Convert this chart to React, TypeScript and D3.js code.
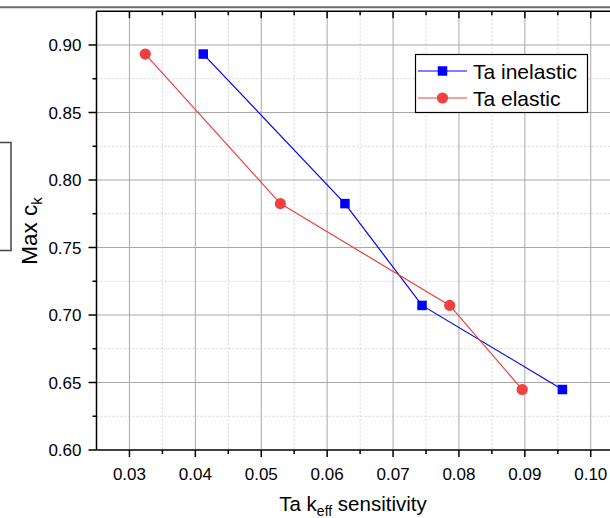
import React from "react";
import * as d3 from "d3";

const yValues = [0.8933, 0.7825, 0.7071, 0.6448];
const inelasticX = [0.0412, 0.0627, 0.0744, 0.0957];
const elasticX = [0.0324, 0.0529, 0.0786, 0.0896];
const xMajorTicks = [0.03, 0.04, 0.05, 0.06, 0.07, 0.08, 0.09, 0.1];
const xMinorTicks = [0.035, 0.045, 0.055, 0.065, 0.075, 0.085, 0.095];
const yMajorTicks = [0.6, 0.65, 0.7, 0.75, 0.8, 0.85, 0.9];
const yMinorTicks = [0.625, 0.675, 0.725, 0.775, 0.825, 0.875];
const seriesNames = ["Ta inelastic", "Ta elastic"];

const W = 610;
const H = 518;
const FONT = "'Liberation Sans', Arial, sans-serif";

export default function App() {
  const x = d3.scaleLinear().domain([0.025, 0.105]).range([96.5, 623.7]);
  const y = d3.scaleLinear().domain([0.6, 0.925]).range([450, 11.25]);
  const line = d3
    .line<[number, number]>()
    .x((d) => x(d[0]))
    .y((d) => y(d[1]));
  const inel: [number, number][] = inelasticX.map((v, i) => [v, yValues[i]]);
  const el: [number, number][] = elasticX.map((v, i) => [v, yValues[i]]);
  const left = x(0.025);
  const right = x(0.105);
  const top = y(0.925);
  const bottom = y(0.6);
  const blue = "#0000ff";
  const red = "#f04040";
  const sq = 9.5;

  return (
    <svg
      width={W}
      height={H}
      style={{ position: "absolute", left: 0, top: 0, background: "#fff" }}
      fontFamily={FONT}
    >
      <rect x={0} y={0} width={W} height={H} fill="#fff" />
      {/* stray frame fragments */}
      <line x1={0} x2={W} y1={7.2} y2={7.2} stroke="#6a6a6a" strokeWidth={2} />
      <path d="M0,142.5 H11 V250.5 H0" fill="none" stroke="#444" strokeWidth={1.5} />

      {/* minor grid */}
      {xMinorTicks.map((t) => (
        <line key={"xm" + t} x1={x(t)} x2={x(t)} y1={top} y2={bottom} stroke="#d4d4d4" strokeDasharray="2,2" />
      ))}
      {yMinorTicks.map((t) => (
        <line key={"ym" + t} x1={left} x2={right} y1={y(t)} y2={y(t)} stroke="#d4d4d4" strokeDasharray="2,2" />
      ))}
      {/* major grid */}
      {xMajorTicks.map((t) => (
        <line key={"xg" + t} x1={x(t)} x2={x(t)} y1={top} y2={bottom} stroke="#a8a8a8" strokeWidth={1} />
      ))}
      {yMajorTicks.slice(1).map((t) => (
        <line key={"yg" + t} x1={left} x2={right} y1={y(t)} y2={y(t)} stroke="#a8a8a8" strokeWidth={1} />
      ))}

      {/* axes */}
      <line x1={left} x2={right} y1={bottom} y2={bottom} stroke="#000" strokeWidth={1.5} />
      <line x1={left} x2={right} y1={top} y2={top} stroke="#000" strokeWidth={1.5} />
      <line x1={left} x2={left} y1={top} y2={bottom} stroke="#000" strokeWidth={1.5} />

      {/* x ticks */}
      {xMajorTicks.map((t) => (
        <g key={"xt" + t}>
          <line x1={x(t)} x2={x(t)} y1={bottom} y2={bottom + 7} stroke="#000" strokeWidth={1.5} />
          <line x1={x(t)} x2={x(t)} y1={top} y2={top + 7} stroke="#000" strokeWidth={1.5} />
          <text x={x(t)} y={479.5} fontSize={17} textAnchor="middle" fill="#000">
            {d3.format(".2f")(t)}
          </text>
        </g>
      ))}
      {xMinorTicks.map((t) => (
        <g key={"xmt" + t}>
          <line x1={x(t)} x2={x(t)} y1={bottom} y2={bottom + 4} stroke="#000" strokeWidth={1.5} />
          <line x1={x(t)} x2={x(t)} y1={top} y2={top + 4} stroke="#000" strokeWidth={1.5} />
        </g>
      ))}
      {/* y ticks */}
      {yMajorTicks.map((t) => (
        <g key={"yt" + t}>
          <line x1={left - 8} x2={left} y1={y(t)} y2={y(t)} stroke="#000" strokeWidth={1.5} />
          <text x={81.5} y={y(t) + 6} fontSize={17} textAnchor="end" fill="#000">
            {d3.format(".2f")(t)}
          </text>
        </g>
      ))}
      {yMinorTicks.map((t) => (
        <line key={"ymt" + t} x1={left - 4} x2={left} y1={y(t)} y2={y(t)} stroke="#000" strokeWidth={1.5} />
      ))}

      {/* axis titles */}
      <text x={353} y={511} fontSize={20.5} textAnchor="middle" fill="#000">
        Ta k<tspan fontSize={14} dy={4.5}>eff</tspan>
        <tspan dy={-4.5}> sensitivity</tspan>
      </text>
      <text transform={`translate(37,231) rotate(-90)`} fontSize={22.5} textAnchor="middle" fill="#000">
        Max c<tspan fontSize={15} dy={5}>k</tspan>
      </text>

      {/* series */}
      <path d={line(inel) || ""} fill="none" stroke={blue} strokeWidth={1.2} />
      <path d={line(el) || ""} fill="none" stroke={red} strokeWidth={1.2} />
      {inel.map((d, i) => (
        <rect key={"b" + i} x={x(d[0]) - sq / 2} y={y(d[1]) - sq / 2} width={sq} height={sq} fill={blue} />
      ))}
      {el.map((d, i) => (
        <circle key={"r" + i} cx={x(d[0])} cy={y(d[1])} r={5.6} fill={red} />
      ))}

      {/* legend */}
      <rect x={415.5} y={54.5} width={172} height={58} fill="#fff" stroke="#000" strokeWidth={1.2} />
      <line x1={418} x2={467} y1={71} y2={71} stroke={blue} strokeWidth={1.2} />
      <rect x={442.5 - sq / 2} y={71 - sq / 2} width={sq} height={sq} fill={blue} />
      <text x={473} y={78.5} fontSize={21} fill="#000">
        {seriesNames[0]}
      </text>
      <line x1={418} x2={467} y1={98} y2={98} stroke={red} strokeWidth={1.2} />
      <circle cx={442.5} cy={98} r={5.6} fill={red} />
      <text x={473} y={105.5} fontSize={21} fill="#000">
        {seriesNames[1]}
      </text>
    </svg>
  );
}
